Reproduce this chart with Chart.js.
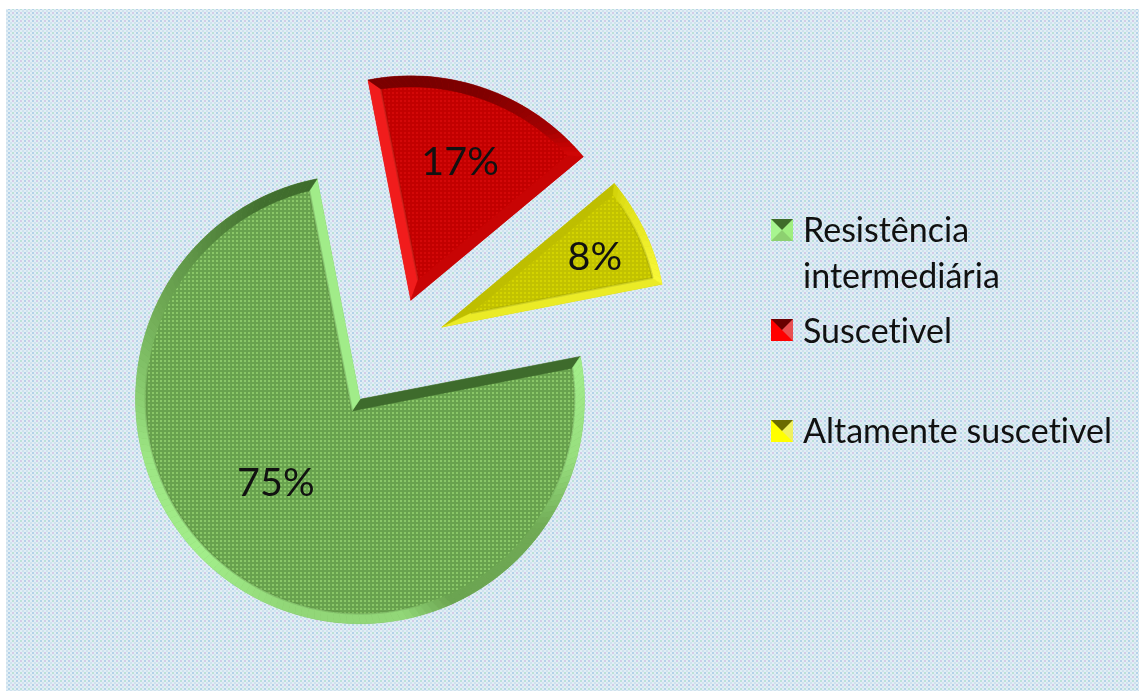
<!DOCTYPE html>
<html lang="pt-BR">
<head>
    <meta charset="UTF-8">
    <title>Suscetibilidade</title>
    <script src="https://cdn.jsdelivr.net/npm/chart.js"></script>
    <style>
        body { margin: 0; background: #fff; width: 1139px; height: 691px; overflow: hidden; position: relative; }
        #chartCanvas { position: absolute; left: 0; top: 0; }
        .legend-text { position: absolute; left: 803px; font-family: Lato, sans-serif; font-size: 34px; line-height: 46px; color: #111; font-variant-ligatures: none; }
        .swatch { position: absolute; left: 771px; width: 0; height: 0; border-style: solid; border-width: 11px; }
    </style>
</head>
<body>
    <canvas id="chartCanvas" width="1139" height="691"></canvas>
    <div id="legend"></div>

    <script>
        const categories = ['Resistência intermediária', 'Suscetivel', 'Altamente suscetivel'];
        const percentValues = [75, 17, 8];
        const percentLabels = ['75%', '17%', '8%'];

        // how far each slice is pulled out of the pie, in px
        const explode = [59, 53, 54];
        const labelRadius = [119, 147, 168];
        const labelAngleShift = [11, 0, 1];
        const legendTop = [206, 307, 407];
        const swatchTop = [219, 319, 420];

        const faceColors = [['#68a24e', '#8ac768'], ['#c20000', '#d40808'], ['#c2c200', '#d4d400']];
        const darkColors = ['#3c682a', '#780000', '#b2b200'];
        const midColors = ['#70aa55', '#cc0404', '#cccc00'];
        const lightColors = ['#a8f590', '#ff2626', '#ffff40'];
        const swatchBorders = [
            ['#3f6b2a', '#a0ee80', '#8dd070', '#a8f590'],
            ['#6a0000', '#e85050', '#ff0000', '#ff0000'],
            ['#6a6a00', '#f0f060', '#ffff00', '#ffff00']
        ];

        const bevelWidths = [10, 11, 8];
        // lighting of a bevel by the direction it faces, degrees clockwise from north
        const shadeStops = [[0, -1], [20, -0.9], [40, -0.5], [55, 0.4], [80, 0.9], [105, 0.7], [125, 0], [155, -0.1],
            [168, 0.6], [200, 0.6], [225, 0.9], [255, 0.8], [285, 0.2], [310, -0.3], [335, -0.9], [360, -1]];

        function makeTile(size, colorAt) {
            const tile = document.createElement('canvas');
            tile.width = size;
            tile.height = size;
            const c = tile.getContext('2d');
            for (let y = 0; y < size; y++) {
                for (let x = 0; x < size; x++) {
                    c.fillStyle = colorAt(x, y);
                    c.fillRect(x, y, 1, 1);
                }
            }
            return tile;
        }

        function hexToRgb(hex) {
            return [1, 3, 5].map(i => parseInt(hex.substr(i, 2), 16));
        }

        function mix(a, b, t) {
            const ca = hexToRgb(a), cb = hexToRgb(b);
            return 'rgb(' + ca.map((v, i) => Math.round(v + (cb[i] - v) * t)).join(',') + ')';
        }

        function shadeAt(facing) {
            const deg = ((facing % 360) + 360) % 360;
            for (let i = 1; i < shadeStops.length; i++) {
                if (deg <= shadeStops[i][0]) {
                    const p = shadeStops[i - 1], q = shadeStops[i];
                    return p[1] + (q[1] - p[1]) * (deg - p[0]) / (q[0] - p[0]);
                }
            }
            return 0;
        }

        function bevelColor(index, facing) {
            const s = shadeAt(facing);
            return s < 0 ? mix(midColors[index], darkColors[index], -s) : mix(midColors[index], lightColors[index], s);
        }

        function fillQuad(ctx, pts, color) {
            ctx.beginPath();
            pts.forEach((p, i) => i ? ctx.lineTo(p[0], p[1]) : ctx.moveTo(p[0], p[1]));
            ctx.closePath();
            ctx.fillStyle = color;
            ctx.strokeStyle = color;
            ctx.lineWidth = 0.5;
            ctx.fill();
            ctx.stroke();
        }

        // soft dark line where a lit bevel meets the face
        function innerLine(ctx, p, q, facing) {
            const s = shadeAt(facing);
            if (s < 0.3) return;
            ctx.beginPath();
            ctx.moveTo(p[0], p[1]);
            ctx.lineTo(q[0], q[1]);
            ctx.strokeStyle = 'rgba(40,50,20,' + (0.22 * s) + ')';
            ctx.lineWidth = 2;
            ctx.stroke();
        }

        function drawBevel(ctx, arc, index) {
            const { x, y, startAngle: a0, endAngle: a1, outerRadius: R } = arc;
            const bw = bevelWidths[index];
            const half = (a1 - a0) / 2;
            const mid = a0 + half;
            const inset = bw / Math.sin(half);
            const tip = [x + Math.cos(mid) * inset, y + Math.sin(mid) * inset];
            const delta = Math.asin(bw / (R - bw));
            const ri = R - bw;
            const outer = a => [x + Math.cos(a) * R, y + Math.sin(a) * R];
            const inner = a => [x + Math.cos(a) * ri, y + Math.sin(a) * ri];
            const toDeg = a => a * 180 / Math.PI + 90;

            fillQuad(ctx, [[x, y], outer(a0), inner(a0 + delta), tip], bevelColor(index, toDeg(a0) - 90));
            fillQuad(ctx, [[x, y], outer(a1), inner(a1 - delta), tip], bevelColor(index, toDeg(a1) + 90));

            const steps = Math.ceil((a1 - a0) / 0.03);
            for (let i = 0; i < steps; i++) {
                const t0 = i / steps, t1 = (i + 1) / steps;
                const o0 = a0 + (a1 - a0) * t0, o1 = a0 + (a1 - a0) * t1;
                const i0 = a0 + delta + (a1 - a0 - 2 * delta) * t0, i1 = a0 + delta + (a1 - a0 - 2 * delta) * t1;
                fillQuad(ctx, [outer(o0), outer(o1), inner(i1), inner(i0)], bevelColor(index, toDeg((o0 + o1) / 2)));
                innerLine(ctx, inner(i0), inner(i1), toDeg((o0 + o1) / 2));
            }
            innerLine(ctx, inner(a0 + delta), tip, toDeg(a0) - 90);
            innerLine(ctx, inner(a1 - delta), tip, toDeg(a1) + 90);
        }

        const pieExtras = {
            id: 'pieExtras',
            beforeDraw(chart) {
                const ctx = chart.ctx;
                const tile = makeTile(8, (x, y) => {
                    if (x % 4 >= 2 && y % 4 >= 2) return '#cfe2ee';
                    if (x % 4 >= 2 || y % 4 >= 2) return '#e2eef5';
                    const k = ((x >> 2) + 2 * (y >> 2)) % 4;
                    return ['#b4d2e8', '#bce2d8', '#b4d2e8', '#d4cce8'][k];
                });
                ctx.save();
                ctx.fillStyle = ctx.createPattern(tile, 'repeat');
                ctx.fillRect(6, 9, chart.width - 6, chart.height - 9);
                ctx.restore();
            },
            afterUpdate(chart) {
                // pull the slices out by moving each arc's own centre along its mid angle
                chart.getDatasetMeta(0).data.forEach((arc, i) => {
                    const mid = (arc.startAngle + arc.endAngle) / 2;
                    arc.x += Math.cos(mid) * explode[i];
                    arc.y += Math.sin(mid) * explode[i];
                });
            },
            afterDatasetsDraw(chart) {
                const ctx = chart.ctx;
                chart.getDatasetMeta(0).data.forEach((arc, i) => {
                    ctx.save();
                    drawBevel(ctx, arc, i);
                    const mid = (arc.startAngle + arc.endAngle) / 2 + labelAngleShift[i] * Math.PI / 180;
                    ctx.fillStyle = '#111';
                    ctx.font = '39.5px Lato, sans-serif';
                    ctx.textAlign = 'center';
                    ctx.textBaseline = 'middle';
                    ctx.fillText(percentLabels[i], arc.x + Math.cos(mid) * labelRadius[i], arc.y + Math.sin(mid) * labelRadius[i]);
                    ctx.restore();
                });
            }
        };

        function buildLegend() {
            const box = document.getElementById('legend');
            categories.forEach((name, i) => {
                const swatch = document.createElement('div');
                swatch.className = 'swatch';
                swatch.style.top = swatchTop[i] + 'px';
                swatch.style.borderColor = swatchBorders[i].join(' ');
                box.appendChild(swatch);

                const text = document.createElement('div');
                text.className = 'legend-text';
                text.style.top = legendTop[i] + 'px';
                text.style.width = i === 0 ? '240px' : '335px';
                text.textContent = name;
                box.appendChild(text);
            });
        }

        const facePatterns = faceColors.map(pair => {
            const tile = makeTile(4, (x, y) => (x % 4 < 2 && y % 4 < 2) ? pair[1] : pair[0]);
            return document.createElement('canvas').getContext('2d').createPattern(tile, 'repeat');
        });

        new Chart(document.getElementById('chartCanvas').getContext('2d'), {
            type: 'pie',
            plugins: [pieExtras],
            data: {
                labels: categories,
                datasets: [{
                    data: percentValues,
                    backgroundColor: facePatterns,
                    borderWidth: 0,
                    hoverOffset: 0,
                    clip: false
                }]
            },
            options: {
                responsive: false,
                animation: false,
                rotation: 79,
                radius: 224.5,
                layout: { padding: { left: 0, right: 353, top: 9.6, bottom: 0 } },
                plugins: {
                    legend: { display: false },
                    tooltip: { enabled: false }
                }
            }
        });

        buildLegend();
    </script>
</body>
</html>
